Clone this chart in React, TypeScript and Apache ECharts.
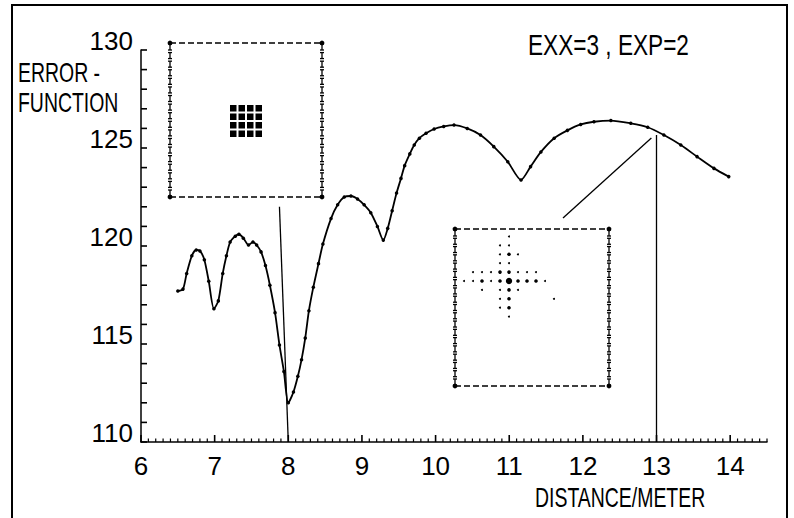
import React, { useEffect, useRef } from "react";
import * as echarts from "echarts";

// Distance (m) and error-function values
const distance = [
  6.5, 6.57, 6.62, 6.69, 6.75, 6.8, 6.86, 6.92, 6.99, 7.05, 7.11, 7.16, 7.21, 7.28, 7.33, 7.39,
  7.46, 7.52, 7.57, 7.63, 7.69, 7.75, 7.82, 7.88, 7.94, 8.0, 8.07, 8.13, 8.18, 8.23, 8.28, 8.34,
  8.41, 8.47, 8.58, 8.67, 8.76, 8.85, 8.94, 9.03, 9.12, 9.21, 9.29, 9.35, 9.41, 9.47, 9.53, 9.58,
  9.65, 9.71, 9.78, 9.87, 9.98, 10.11, 10.25, 10.43, 10.61, 10.79, 10.98, 11.16, 11.29, 11.43,
  11.61, 11.79, 11.97, 12.15, 12.38, 12.65, 12.88, 13.1, 13.33, 13.55, 13.78, 13.98,
];
const errorFunction = [
  117.7, 117.8, 118.6, 119.5, 119.8, 119.75, 119.3, 118.2, 116.8, 117.2, 118.6, 119.5, 120.2, 120.5,
  120.6, 120.4, 120.05, 120.2, 120.05, 119.7, 119.0, 118.0, 116.6, 114.95, 113.6, 112.0, 112.55,
  113.35, 114.2, 115.3, 116.7, 117.9, 119.1, 120.1, 121.4, 122.1, 122.5, 122.55, 122.4, 122.1, 121.7,
  121.0, 120.3, 120.9, 121.8, 122.7, 123.45, 124.1, 124.7, 125.15, 125.5, 125.75, 125.97, 126.1,
  126.17, 126.0, 125.66, 125.07, 124.3, 123.37, 124.05, 124.8, 125.5, 125.9, 126.2, 126.34, 126.4,
  126.26, 126.06, 125.66, 125.15, 124.56, 123.96, 123.54,
];

// Pointer lines (data coordinates) from the insets to the curve
const pointerA = [[7.88, 122.0], [8.0, 110.0]];
const pointerB = [[11.73, 121.43], [12.93, 125.51]];
const pointerC = [[13.0, 125.66], [13.0, 110.0]];

const xRange = [6, 14.5];
const yRange = [110, 130];
const xStep = 1; // labelled x ticks
const xMinorStep = 0.1; // small x ticks
const yStep = 5; // labelled y ticks
const yMinorStep = 1; // small y ticks

const FONT = "'Liberation Sans', Arial, sans-serif";

const W = 794;
const H = 518;
const GRID = { left: 141, right: 27, top: 50, bottom: 76 };

function insetBox(x0: number, y0: number, x1: number, y1: number): any[] {
  const els: any[] = [];
  const st = { stroke: "#000", lineWidth: 1.5, lineDash: [6, 3] };
  els.push({ type: "line", shape: { x1: x0, y1: y0, x2: x1, y2: y0 }, style: st });
  els.push({ type: "line", shape: { x1: x0, y1: y1, x2: x1, y2: y1 }, style: st });
  const n = Math.round((y1 - y0 - 8) / 8.5);
  const step = (y1 - y0 - 8) / n;
  for (const x of [x0, x1]) {
    for (let i = 0; i <= n; i++) {
      const y = y0 + 4 + i * step;
      const s = { stroke: "#000", lineWidth: 1.3 };
      els.push({ type: "line", shape: { x1: x, y1: y - 3, x2: x, y2: y + 3 }, style: s });
      els.push({ type: "line", shape: { x1: x - 2, y1: y - 3, x2: x + 2, y2: y - 3 }, style: s });
      els.push({ type: "line", shape: { x1: x - 2, y1: y + 3, x2: x + 2, y2: y + 3 }, style: s });
    }
  }
  for (const [cx, cy] of [[x0, y0], [x1, y0], [x0, y1], [x1, y1]]) {
    els.push({ type: "circle", shape: { cx, cy, r: 2.4 }, style: { fill: "#000" } });
  }
  return els;
}

function squareBlock(x: number, y: number): any[] {
  const els: any[] = [];
  for (let r = 0; r < 4; r++) {
    for (let c = 0; c < 4; c++) {
      els.push({
        type: "rect",
        shape: { x: x + c * 8.5, y: y + r * 8.5, width: 6.5, height: 6.5 },
        style: { fill: "#000" },
      });
    }
  }
  return els;
}

// cross-shaped dot pattern: [col, row, size(0 small,1 medium,2 large)]
const crossPattern = [
  [0, -5, 0], [-1, -4, 0], [0, -4, 0], [-1, -3, 0], [0, -3, 1], [1, -3, 0], [-1, -2, 0], [0, -2, 0],
  [-4, -1, 0], [-3, -1, 0], [-2, -1, 0], [-1, -1, 1], [0, -1, 1], [1, -1, 0], [2, -1, 0], [3, -1, 0],
  [-5, 0, 0], [-4, 0, 0], [-3, 0, 1], [-2, 0, 0], [-1, 0, 1], [0, 0, 2], [1, 0, 1], [2, 0, 1], [3, 0, 1], [4, 0, 0],
  [-3, 1, 0], [-1, 1, 0], [0, 1, 1], [1, 1, 0], [-1, 2, 0], [0, 2, 1], [5, 2, 0], [-1, 3, 0], [0, 3, 1], [0, 4, 0],
];

function crossDots(cx: number, cy: number): any[] {
  const radii = [1.0, 1.8, 3.2];
  return crossPattern.map(([c, r, s]) => ({
    type: "circle",
    shape: { cx: cx + c * 9, cy: cy + r * 8.9, r: radii[s] },
    style: { fill: "#000" },
  }));
}

function textEl(text: string, x: number, y: number, size: number, sx: number): any {
  return {
    type: "text",
    x,
    y,
    scaleX: sx,
    style: {
      text,
      fill: "#000",
      fontSize: size,
      fontFamily: FONT,
      textAlign: "left",
      verticalAlign: "middle",
    },
  };
}

// inward-pointing ticks along the grid edges (same linear mapping as the axes)
function tickElements(): any[] {
  const els: any[] = [];
  const gridW = W - GRID.left - GRID.right;
  const gridH = H - GRID.top - GRID.bottom;
  const xb = H - GRID.bottom;
  const nx = Math.round((xRange[1] - xRange[0]) / xMinorStep);
  for (let i = 0; i <= nx; i++) {
    const v = xRange[0] + i * xMinorStep;
    const px = GRID.left + ((v - xRange[0]) / (xRange[1] - xRange[0])) * gridW;
    const major = Math.abs(v / xStep - Math.round(v / xStep)) < 1e-6;
    els.push({
      type: "line",
      silent: true,
      z: 50,
      shape: { x1: px, y1: xb, x2: px, y2: xb - (major ? 7 : 3.5) },
      style: { stroke: "#000", lineWidth: major ? 1.6 : 1.2 },
    });
  }
  const ny = Math.round((yRange[1] - yRange[0]) / yMinorStep);
  for (let i = 0; i <= ny; i++) {
    const v = yRange[0] + i * yMinorStep;
    const py = xb - ((v - yRange[0]) / (yRange[1] - yRange[0])) * gridH;
    els.push({
      type: "line",
      silent: true,
      z: 50,
      shape: { x1: GRID.left, y1: py, x2: GRID.left + 6, y2: py },
      style: { stroke: "#000", lineWidth: 1.6 },
    });
  }
  return els;
}

export default function App() {
  const ref = useRef<HTMLDivElement>(null);
  useEffect(() => {
    if (!ref.current) return;
    const chart = echarts.init(ref.current, undefined, { renderer: "svg" });
    const pts = distance.map((d, i) => [d, errorFunction[i]]);
    const ml = (p: number[][]) => [{ coord: p[0] }, { coord: p[1] }];
    const labelStyle = { color: "#000", fontFamily: FONT, fontSize: 26 };
    chart.setOption({
      animation: false,
      backgroundColor: "#fff",
      grid: { ...GRID, containLabel: false },
      xAxis: {
        type: "value",
        min: xRange[0],
        max: xRange[1],
        interval: xStep,
        axisLine: { show: true, onZero: false, lineStyle: { color: "#000", width: 1.5 } },
        axisTick: { show: false },
        splitLine: { show: false },
        axisLabel: {
          ...labelStyle,
          lineHeight: 26,
          margin: 11,
          showMaxLabel: false,
          formatter: (v: number) => (Number.isInteger(v) ? String(v) : ""),
        },
      },
      yAxis: {
        type: "value",
        min: yRange[0],
        max: yRange[1],
        interval: yStep,
        axisLine: { show: true, onZero: false, lineStyle: { color: "#000", width: 1.5 } },
        axisTick: { show: false },
        splitLine: { show: false },
        axisLabel: {
          ...labelStyle,
          lineHeight: 18,
          verticalAlign: "bottom",
          margin: 8,
        },
      },
      series: [
        {
          type: "line",
          data: pts,
          smooth: 0.25,
          symbol: "circle",
          symbolSize: 3.5,
          showSymbol: true,
          lineStyle: { color: "#000", width: 1.8 },
          itemStyle: { color: "#000" },
          markLine: {
            silent: true,
            symbol: ["none", "none"],
            label: { show: false },
            lineStyle: { color: "#000", width: 1.3, type: "solid" },
            data: [ml(pointerA), ml(pointerB), ml(pointerC)],
          },
        },
      ],
      graphic: [
        {
          type: "rect",
          shape: { x: 12, y: 5, width: 775, height: 540 },
          style: { fill: null, stroke: "#000", lineWidth: 2 },
          silent: true,
        },
        ...tickElements(),
        ...insetBox(170, 43, 322, 197),
        ...squareBlock(230, 105),
        ...insetBox(455, 229, 609, 386),
        ...crossDots(509, 281),
        textEl("ERROR -", 18, 73, 27, 0.72),
        textEl("FUNCTION", 18, 103, 27, 0.72),
        textEl("EXX=3 , EXP=2", 528, 45, 29, 0.78),
        textEl("DISTANCE/METER", 535, 498, 27, 0.72),
      ],
    });
    return () => chart.dispose();
  }, []);
  return (
    <div
      ref={ref}
      style={{ position: "absolute", left: 0, top: 0, width: W, height: H }}
    />
  );
}
